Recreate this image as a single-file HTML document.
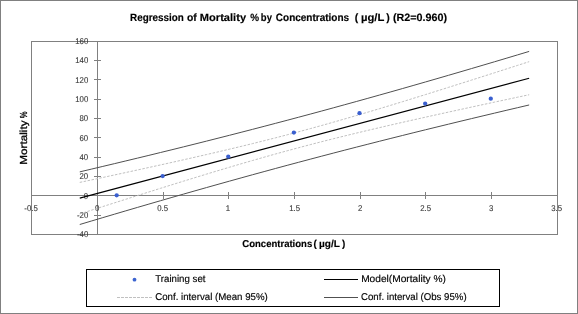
<!DOCTYPE html>
<html><head><meta charset="utf-8"><style>
html,body{margin:0;padding:0;background:#fff;}
body{width:578px;height:314px;overflow:hidden;}
svg{display:block;will-change:transform;text-rendering:geometricPrecision;font-family:"Liberation Sans",sans-serif;}
</style></head><body>
<svg width="578" height="314" viewBox="0 0 578 314">
<rect x="0.5" y="0.5" width="577" height="313" fill="#fff" stroke="#808080" stroke-width="1"/>
<g shape-rendering="crispEdges" stroke="#808080" stroke-width="1" fill="none">
<rect x="31.5" y="41.5" width="526" height="193"/>
<path d="M97.5,41 V234 M31,195.5 H557"/>
<path d="M94,41.5 H101 M94,60.5 H101 M94,79.5 H101 M94,99.5 H101 M94,118.5 H101 M94,137.5 H101 M94,157.5 H101 M94,176.5 H101 M94,195.5 H101 M94,215.5 H101 M94,234.5 H101 "/>
<path d="M31.5,192 V199 M97.5,192 V199 M163.5,192 V199 M228.5,192 V199 M294.5,192 V199 M360.5,192 V199 M425.5,192 V199 M491.5,192 V199 M557.5,192 V199 "/>
</g>
<g fill="#383838" stroke="#383838" stroke-width="0.12" font-size="8.4"><text transform="translate(76.97,237.10) scale(0.930,1)">-40</text><text transform="translate(76.97,217.80) scale(0.930,1)">-20</text><text transform="translate(83.83,198.50) scale(0.930,1)">0</text><text transform="translate(79.53,179.20) scale(0.930,1)">20</text><text transform="translate(79.53,159.90) scale(0.930,1)">40</text><text transform="translate(79.53,140.60) scale(0.930,1)">60</text><text transform="translate(79.53,121.30) scale(0.930,1)">80</text><text transform="translate(75.23,102.00) scale(0.930,1)">100</text><text transform="translate(75.23,82.70) scale(0.930,1)">120</text><text transform="translate(75.23,63.40) scale(0.930,1)">140</text><text transform="translate(75.23,44.10) scale(0.930,1)">160</text></g>
<g fill="#383838" stroke="#383838" stroke-width="0.12" font-size="8.4"><text transform="translate(24.36,211) scale(0.930,1)">-0.5</text><text transform="translate(94.99,211) scale(0.930,1)">0</text><text transform="translate(157.19,211) scale(0.930,1)">0.5</text><text transform="translate(225.83,211) scale(0.930,1)">1</text><text transform="translate(289.28,211) scale(0.930,1)">1.5</text><text transform="translate(357.95,211) scale(0.930,1)">2</text><text transform="translate(420.29,211) scale(0.930,1)">2.5</text><text transform="translate(488.95,211) scale(0.930,1)">3</text><text transform="translate(551.19,211) scale(0.930,1)">3.5</text></g>
<g fill="none" stroke-linejoin="round" transform="translate(0,0.4)">
<path d="M79.76,171.46 L91.28,168.75 L102.81,166.02 L114.33,163.28 L125.85,160.52 L137.37,157.75 L148.90,154.96 L160.42,152.14 L171.94,149.32 L183.47,146.47 L194.99,143.60 L206.51,140.71 L218.03,137.80 L229.56,134.87 L241.08,131.91 L252.60,128.93 L264.13,125.94 L275.65,122.91 L287.17,119.87 L298.69,116.80 L310.22,113.71 L321.74,110.60 L333.26,107.46 L344.78,104.30 L356.31,101.12 L367.83,97.92 L379.35,94.69 L390.88,91.45 L402.40,88.18 L413.92,84.89 L425.44,81.58 L436.97,78.25 L448.49,74.91 L460.01,71.54 L471.54,68.16 L483.06,64.76 L494.58,61.35 L506.10,57.92 L517.63,54.47 L529.15,51.01" stroke="#505050" stroke-width="1"/>
<path d="M79.76,224.10 L91.28,220.66 L102.81,217.23 L114.33,213.82 L125.85,210.42 L137.37,207.04 L148.90,203.68 L160.42,200.34 L171.94,197.02 L183.47,193.72 L194.99,190.43 L206.51,187.17 L218.03,183.93 L229.56,180.71 L241.08,177.51 L252.60,174.33 L264.13,171.18 L275.65,168.04 L287.17,164.94 L298.69,161.85 L310.22,158.79 L321.74,155.75 L333.26,152.73 L344.78,149.74 L356.31,146.77 L367.83,143.82 L379.35,140.89 L390.88,137.99 L402.40,135.10 L413.92,132.24 L425.44,129.39 L436.97,126.57 L448.49,123.76 L460.01,120.97 L471.54,118.20 L483.06,115.45 L494.58,112.71 L506.10,109.98 L517.63,107.28 L529.15,104.58" stroke="#505050" stroke-width="1"/>
<path d="M79.76,182.00 L91.28,179.55 L102.81,177.08 L114.33,174.60 L125.85,172.11 L137.37,169.60 L148.90,167.08 L160.42,164.54 L171.94,161.99 L183.47,159.40 L194.99,156.79 L206.51,154.15 L218.03,151.48 L229.56,148.76 L241.08,146.00 L252.60,143.19 L264.13,140.32 L275.65,137.40 L287.17,134.41 L298.69,131.36 L310.22,128.25 L321.74,125.07 L333.26,121.82 L344.78,118.52 L356.31,115.17 L367.83,111.77 L379.35,108.32 L390.88,104.84 L402.40,101.32 L413.92,97.77 L425.44,94.19 L436.97,90.59 L448.49,86.97 L460.01,83.34 L471.54,79.69 L483.06,76.02 L494.58,72.35 L506.10,68.66 L517.63,64.96 L529.15,61.26" stroke="#c0c0c0" stroke-width="1" stroke-dasharray="2.5,1.5"/>
<path d="M79.76,213.55 L91.28,209.86 L102.81,206.17 L114.33,202.50 L125.85,198.84 L137.37,195.19 L148.90,191.56 L160.42,187.94 L171.94,184.35 L183.47,180.78 L194.99,177.24 L206.51,173.72 L218.03,170.25 L229.56,166.81 L241.08,163.42 L252.60,160.07 L264.13,156.79 L275.65,153.56 L287.17,150.39 L298.69,147.29 L310.22,144.25 L321.74,141.28 L333.26,138.37 L344.78,135.52 L356.31,132.72 L367.83,129.97 L379.35,127.26 L390.88,124.59 L402.40,121.96 L413.92,119.36 L425.44,116.78 L436.97,114.23 L448.49,111.69 L460.01,109.18 L471.54,106.67 L483.06,104.19 L494.58,101.71 L506.10,99.24 L517.63,96.79 L529.15,94.34" stroke="#c0c0c0" stroke-width="1" stroke-dasharray="2.5,1.5"/>
<path d="M79.76,197.78 L529.15,77.80" stroke="#000" stroke-width="1.15"/>
</g>
<g fill="#3a5fcf"><circle cx="116.69" cy="195.36" r="2.15"/><circle cx="162.63" cy="176.03" r="2.15"/><circle cx="228.26" cy="156.70" r="2.15"/><circle cx="293.89" cy="132.54" r="2.15"/><circle cx="359.52" cy="113.22" r="2.15"/><circle cx="425.15" cy="103.55" r="2.15"/><circle cx="490.78" cy="98.72" r="2.15"/></g>
<text transform="translate(26.9,163.80) rotate(-90) scale(1.1535,1) translate(-0.875,0)" font-size="10.2" fill="#000" stroke="#000" stroke-width="0.3">Mortality</text><text transform="translate(26.9,118.00) rotate(-90) scale(0.7403,1) translate(-0.375,0)" font-size="10.2" fill="#000" stroke="#000" stroke-width="0.3">%</text>
<text transform="translate(130.10,20.80) scale(0.9316,1)" font-size="10.6" font-weight="bold" fill="#000" stroke="#000" stroke-width="0.15">Regression</text>
<text transform="translate(187.03,20.80) scale(0.9766,1)" font-size="10.6" font-weight="bold" fill="#000" stroke="#000" stroke-width="0.15">of</text>
<text transform="translate(199.81,20.80) scale(1.0474,1)" font-size="10.6" font-weight="bold" fill="#000" stroke="#000" stroke-width="0.15">Mortality</text>
<text transform="translate(250.27,20.80) scale(0.9352,1)" font-size="10.6" font-weight="bold" fill="#000" stroke="#000" stroke-width="0.15">%</text>
<text transform="translate(260.83,20.80) scale(0.8957,1)" font-size="10.6" font-weight="bold" fill="#000" stroke="#000" stroke-width="0.15">by</text>
<text transform="translate(275.83,20.80) scale(0.9433,1)" font-size="10.6" font-weight="bold" fill="#000" stroke="#000" stroke-width="0.15">Concentrations</text>
<text transform="translate(354.75,20.80) scale(1.0000,1)" font-size="10.6" font-weight="bold" fill="#000" stroke="#000" stroke-width="0.15">(</text>
<text transform="translate(361.00,20.80) scale(1.0635,1)" font-size="10.6" font-weight="bold" fill="#000" stroke="#000" stroke-width="0.15">µg/L</text>
<text transform="translate(386.34,20.80) scale(1.0000,1)" font-size="10.6" font-weight="bold" fill="#000" stroke="#000" stroke-width="0.15">)</text>
<text transform="translate(392.89,20.80) scale(1.0163,1)" font-size="10.6" font-weight="bold" fill="#000" stroke="#000" stroke-width="0.15">(R2=0.960)</text>
<text transform="translate(242.34,246.90) scale(0.9647,1)" font-size="9.9" font-weight="bold" fill="#000" stroke="#000" stroke-width="0.15">Concentrations</text>
<text transform="translate(313.43,246.90) scale(1.0000,1)" font-size="9.9" font-weight="bold" fill="#000" stroke="#000" stroke-width="0.15">(</text>
<text transform="translate(318.96,246.90) scale(1.0191,1)" font-size="9.9" font-weight="bold" fill="#000" stroke="#000" stroke-width="0.15">µg/L</text>
<text transform="translate(342.01,246.90) scale(1.0000,1)" font-size="9.9" font-weight="bold" fill="#000" stroke="#000" stroke-width="0.15">)</text>
<text transform="translate(155.25,281.90) scale(0.9808,1)" font-size="9.9" font-weight="normal" fill="#000" stroke="#000" stroke-width="0.15">Training set</text>
<text transform="translate(155.21,299.60) scale(0.9813,1)" font-size="9.9" font-weight="normal" fill="#000" stroke="#000" stroke-width="0.15">Conf. interval (Mean 95%)</text>
<text transform="translate(361.13,281.90) scale(1.0296,1)" font-size="9.9" font-weight="normal" fill="#000" stroke="#000" stroke-width="0.15">Model(Mortality %)</text>
<text transform="translate(361.01,299.60) scale(0.9766,1)" font-size="9.9" font-weight="normal" fill="#000" stroke="#000" stroke-width="0.15">Conf. interval (Obs 95%)</text>

<rect x="86.5" y="269.5" width="413" height="37" fill="none" stroke="#000" stroke-width="1" shape-rendering="crispEdges"/>
<circle cx="134.5" cy="279.7" r="1.9" fill="#3c64d0"/>
<path d="M117,297.5 H152" stroke="#c0c0c0" stroke-width="1" stroke-dasharray="3,1"/>
<path d="M324,279.5 H358" stroke="#000" stroke-width="1.2"/>
<path d="M324,297.5 H358" stroke="#505050" stroke-width="1"/>
</svg>
</body></html>
